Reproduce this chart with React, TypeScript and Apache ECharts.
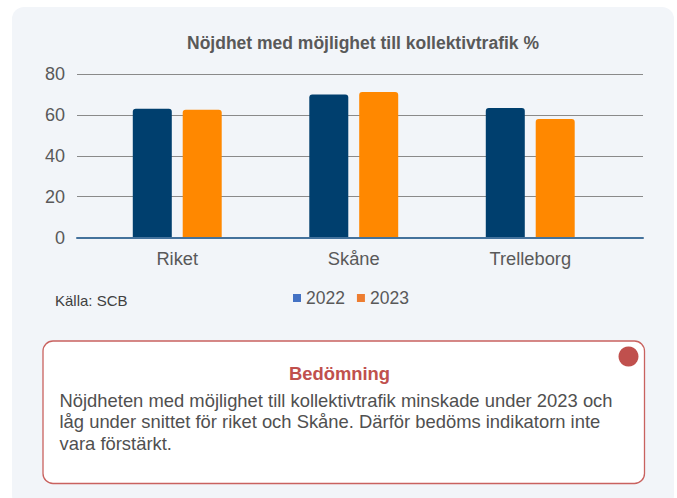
import React, { useEffect, useRef } from "react";
import * as echarts from "echarts";

const categories = ["Riket", "Skåne", "Trelleborg"];
const seriesNames = ["2022", "2023"];
const values2022 = [63, 70, 63.4];
const values2023 = [62.5, 71.2, 58];
const yTicks = { min: 0, max: 80, interval: 20 };
const titleText = "Nöjdhet med möjlighet till kollektivtrafik %";
const sourceText = "Källa: SCB";
const boxTitle = "Bedömning";
const boxLines = [
  "Nöjdheten med möjlighet till kollektivtrafik minskade under 2023 och",
  "låg under snittet för riket och Skåne. Därför bedöms indikatorn inte",
  "vara förstärkt.",
];

const FONT = '"Liberation Sans", Arial, sans-serif';

export default function App() {
  const ref = useRef<HTMLDivElement>(null);
  useEffect(() => {
    if (!ref.current) return;
    const chart = echarts.init(ref.current, undefined, { renderer: "svg" });
    const barColors = ["#003f6e", "#ff8800"];
    const legendColors = ["#4472c4", "#ed7d31"];
    chart.setOption({
      animation: false,
      textStyle: { fontFamily: FONT },
      grid: [
        { left: 77, width: 566, top: 74, height: 163.5 },
        { left: 89, width: 529.5, top: 74, height: 163.5 },
      ],
      xAxis: [
        {
          gridIndex: 0,
          type: "category",
          data: [""],
          axisLine: { show: true, lineStyle: { color: "#44729c", width: 2 } },
          axisTick: { show: false },
          axisLabel: { show: false },
          z: 3,
        },
        {
          gridIndex: 1,
          type: "category",
          data: categories,
          axisLine: { show: false },
          axisTick: { show: false },
          axisLabel: {
            color: "#595959",
            fontSize: 18.3,
            margin: 12,
            fontFamily: FONT,
          },
        },
      ],
      yAxis: [
        {
          gridIndex: 0,
          type: "value",
          min: yTicks.min,
          max: yTicks.max,
          interval: yTicks.interval,
          axisLine: { show: false },
          axisTick: { show: false },
          axisLabel: { color: "#595959", fontSize: 18, margin: 12, fontFamily: FONT },
          splitLine: { lineStyle: { color: "#8a8a8a", width: 1 } },
        },
        {
          gridIndex: 1,
          type: "value",
          min: yTicks.min,
          max: yTicks.max,
          interval: yTicks.interval,
          show: false,
          splitLine: { show: false },
        },
      ],
      legend: {
        left: 293,
        top: 289,
        padding: 0,
        icon: "rect",
        itemWidth: 8,
        itemHeight: 8,
        itemGap: 12,
        textStyle: { color: "#595959", fontSize: 17.5, fontFamily: FONT },
        data: seriesNames.map((n, i) => ({
          name: n,
          itemStyle: { color: legendColors[i] },
        })),
      },
      series: [
        {
          name: seriesNames[0],
          type: "bar",
          xAxisIndex: 1,
          yAxisIndex: 1,
          data: values2022,
          barWidth: 39,
          barGap: "28%",
          itemStyle: { color: barColors[0], borderRadius: [3, 3, 0, 0] },
          z: 2,
        },
        {
          name: seriesNames[1],
          type: "bar",
          xAxisIndex: 1,
          yAxisIndex: 1,
          data: values2023,
          barWidth: 39,
          barGap: "28%",
          itemStyle: { color: barColors[1], borderRadius: [3, 3, 0, 0] },
          z: 2,
        },
      ],
      graphic: [
        {
          type: "rect",
          z: -10,
          silent: true,
          shape: { x: 12, y: 7, width: 662, height: 500, r: 12 },
          style: { fill: "#f2f5f9" },
        },
        {
          type: "text",
          x: 363,
          y: 43,
          style: {
            text: titleText,
            fill: "#595959",
            font: `bold 17.5px ${FONT}`,
            textAlign: "center",
            textVerticalAlign: "middle",
          },
        },
        {
          type: "text",
          x: 55,
          y: 300,
          style: {
            text: sourceText,
            fill: "#404040",
            font: `15px ${FONT}`,
            textAlign: "left",
            textVerticalAlign: "middle",
          },
        },
        {
          type: "rect",
          shape: { x: 43, y: 341, width: 601.5, height: 142.5, r: 10 },
          style: { fill: "#ffffff", stroke: "#c9625f", lineWidth: 1.3 },
        },
        {
          type: "circle",
          shape: { cx: 628.5, cy: 356.5, r: 10 },
          style: { fill: "#c0504d" },
        },
        {
          type: "text",
          x: 339.5,
          y: 373,
          style: {
            text: boxTitle,
            fill: "#c0504d",
            font: `bold 18.4px ${FONT}`,
            textAlign: "center",
            textVerticalAlign: "middle",
          },
        },
        ...boxLines.map((t, i) => ({
          type: "text",
          x: 59.5,
          y: 400 + i * 21.8,
          style: {
            text: t,
            fill: "#505050",
            font: `18.4px ${FONT}`,
            textAlign: "left",
            textVerticalAlign: "middle",
          },
        })),
      ],
    });
    return () => chart.dispose();
  }, []);
  return (
    <div
      ref={ref}
      style={{ position: "fixed", left: 0, top: 0, width: 677, height: 498, background: "#ffffff" }}
    />
  );
}
